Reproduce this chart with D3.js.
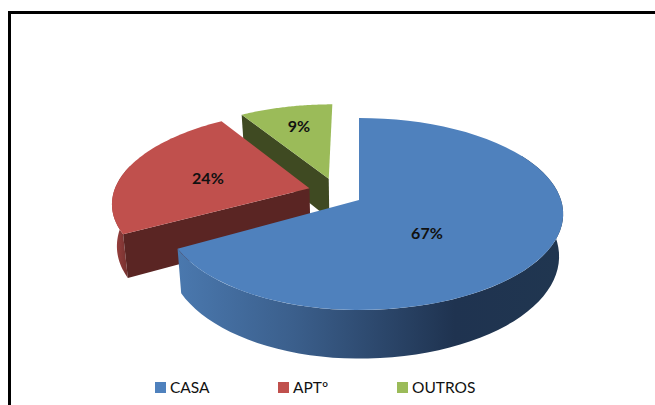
<!DOCTYPE html>
<html><head><meta charset="utf-8">
<script src="https://cdn.jsdelivr.net/npm/d3@7"></script>
<style>html,body{margin:0;padding:0;background:#fff}svg{display:block}</style>
</head><body><svg id="c" width="655" height="405"></svg>
<script>
const categories = ["CASA","APTº","OUTROS"];
const values = [67,24,9];
const labels = ["67%","24%","9%"];
const colors = ["#4f81bd","#c0504d","#9bbb59"];
const cutColors = ["#2f4d71","#5a2523","#3f4a22"];

(function(){
const W=655,H=405;
const svg=d3.select("#c");
// projection of the pie plane (perspective)
const cx=359,cy=200,a=202,b=94,k=0.1458,depth=41.5,shrink=0.98;
const explode=[[0,0],[-0.25,-0.126],[-0.155,-0.235]];
const radius=[1,0.98,0.96];
const leftScale=[0.953,1,1];
const proj=(i,u0,v0,bottom)=>{
  const u=(u0<0?u0*leftScale[i]:u0)+explode[i][0],v=v0+explode[i][1],w=1-k*v;
  const X=a*u/w,Y=b*v/w;
  return bottom?[cx+X*shrink,cy+Y+depth/w]:[cx+X,cy+Y];
};
const rim=(i,t,bottom)=>proj(i,radius[i]*Math.sin(t),-radius[i]*Math.cos(t),bottom);
const line=d3.line();
const arcs=d3.pie().sort(null)(values);
const sample=(t0,t1)=>d3.range(0,61).map(d3.scaleLinear([0,60],[t0,t1]));
const deg=d=>d*Math.PI/180;

const defs=svg.append("defs");
const addGrad=(id,x1,x2,stops)=>{
  const g=defs.append("linearGradient").attr("id",id).attr("gradientUnits","userSpaceOnUse")
    .attr("x1",x1).attr("x2",x2).attr("y1",0).attr("y2",0);
  stops.forEach(s=>g.append("stop").attr("offset",s[0]).attr("stop-color",s[1]));
};
addGrad("wall0",178,562,[[0,"#4a78ae"],[0.3,"#3b5f8c"],[0.72,"#1f3350"],[1,"#203650"]]);
addGrad("wall1",110,130,[[0,"#a84644"],[1,"#6e2e2c"]]);

// frame
svg.append("path").attr("d",line([[W,12.5],[9.5,12.5],[9.5,H]]))
  .attr("fill","none").attr("stroke","#000").attr("stroke-width",3);

const g=svg.append("g");
const wall=(i,t0,t1,fill)=>{
  const s=sample(t0,t1);
  g.append("path").attr("fill",fill)
    .attr("d",line(s.map(t=>rim(i,t,false)).concat(s.slice().reverse().map(t=>rim(i,t,true))))+"Z");
};
const cut=(i,t)=>{
  const p=[proj(i,0,0,false),rim(i,t,false),rim(i,t,true),proj(i,0,0,true)];
  g.append("path").attr("fill",cutColors[i]).attr("d",line(p)+"Z");
};
const face=(i)=>{
  const s=sample(arcs[i].startAngle,arcs[i].endAngle).map(t=>rim(i,t,false));
  g.append("path").attr("fill",colors[i]).attr("d",line([proj(i,0,0,false)].concat(s))+"Z");
};
// back to front: green, red, blue
cut(2,arcs[2].startAngle); face(2);
wall(1,arcs[1].startAngle,deg(285),"url(#wall1)"); cut(1,arcs[1].startAngle); face(1);
wall(0,deg(60),arcs[0].endAngle,"url(#wall0)"); face(0);

// data labels
const labelAt=[[0.32,0.335],[-0.524,-0.114],[-0.181,-0.654]];
labels.forEach((t,i)=>{
  const p=proj(i,labelAt[i][0]/(labelAt[i][0]<0?leftScale[i]:1),labelAt[i][1],false);
  svg.append("text").attr("x",p[0]).attr("y",p[1]).attr("text-anchor","middle").attr("dy","0.35em")
    .attr("font-family","Lato, 'Open Sans', sans-serif").attr("font-weight",700).attr("font-size",16)
    .attr("fill","#111").text(t);
});

// legend
const legendX=d3.scaleOrdinal().domain(categories).range([155,278,397]);
const leg=svg.append("g").selectAll("g").data(categories).join("g")
  .attr("transform",d=>`translate(${legendX(d)},382)`);
leg.append("rect").attr("width",11).attr("height",11).attr("fill",(d,i)=>colors[i]);
leg.append("text").attr("x",15).attr("y",11).attr("font-family","Lato, 'Open Sans', sans-serif")
  .attr("font-size",15.5).attr("fill","#111").text(d=>d);
})();
</script></body></html>
